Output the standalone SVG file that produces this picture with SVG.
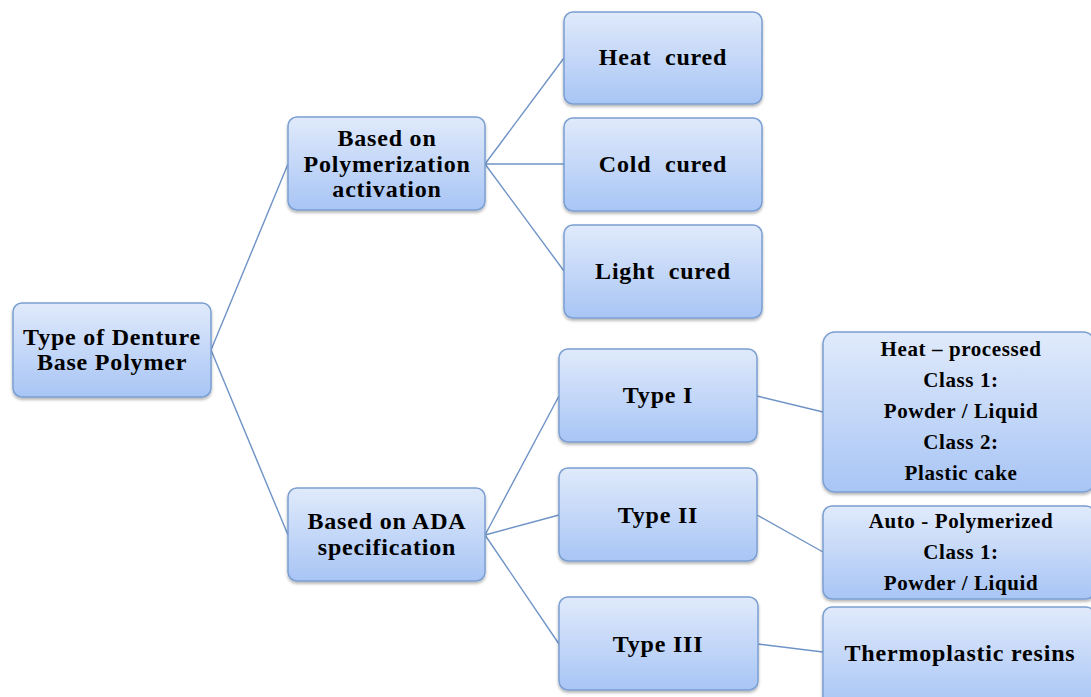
<svg xmlns="http://www.w3.org/2000/svg" width="1091" height="697" viewBox="0 0 1091 697">
<defs>
<linearGradient id="g" x1="0" y1="0" x2="0" y2="1">
<stop offset="0" stop-color="#e0eafb"/>
<stop offset="1" stop-color="#a8c5f5"/>
</linearGradient>
<filter id="sh" x="-10%" y="-10%" width="120%" height="130%">
<feDropShadow dx="0" dy="2" stdDeviation="1.5" flood-color="#000" flood-opacity="0.3"/>
</filter>
</defs>
<style>
.box{fill:url(#g);stroke:#7b9fd2;stroke-width:1.5;filter:url(#sh)}
.t{font-family:"Liberation Serif","Times New Roman",serif;font-weight:bold;fill:#000;text-anchor:middle}
.l{font-size:24px;letter-spacing:0.8px}
.s{font-size:21px;letter-spacing:0.6px}
.c{stroke:#6f93c6;stroke-width:1.4;fill:none}
</style>
<rect width="1091" height="697" fill="#fff"/>
<g id="connectors">
<line class="c" x1="211" y1="350" x2="288" y2="164"/>
<line class="c" x1="211" y1="350" x2="288" y2="535"/>
<line class="c" x1="485" y1="164" x2="564" y2="58"/>
<line class="c" x1="485" y1="164" x2="564" y2="164"/>
<line class="c" x1="485" y1="164" x2="564" y2="271"/>
<line class="c" x1="485" y1="535" x2="559" y2="396"/>
<line class="c" x1="485" y1="535" x2="559" y2="515"/>
<line class="c" x1="485" y1="535" x2="559" y2="644"/>
<line class="c" x1="757" y1="396" x2="823" y2="412"/>
<line class="c" x1="757" y1="515" x2="823" y2="552"/>
<line class="c" x1="758" y1="644" x2="823" y2="652"/>
</g>
<g id="root">
<rect class="box" x="13" y="303" width="198" height="94" rx="9"/>
<text class="t l" x="112" y="345">Type of Denture</text>
<text class="t l" x="112" y="370">Base Polymer</text>
</g>
<g id="polymerization">
<rect class="box" x="288" y="117" width="197" height="93" rx="9"/>
<text class="t l" x="387" y="146">Based on</text>
<text class="t l" x="387" y="172">Polymerization</text>
<text class="t l" x="387" y="197">activation</text>
</g>
<g id="ada">
<rect class="box" x="288" y="488" width="197" height="93" rx="9"/>
<text class="t l" x="387" y="529">Based on ADA</text>
<text class="t l" x="387" y="555">specification</text>
</g>
<g id="heat">
<rect class="box" x="564" y="12" width="198" height="92" rx="9"/>
<text class="t l" x="663" y="65" xml:space="preserve">Heat  cured</text>
</g>
<g id="cold">
<rect class="box" x="564" y="118" width="198" height="93" rx="9"/>
<text class="t l" x="663" y="172" xml:space="preserve">Cold  cured</text>
</g>
<g id="light">
<rect class="box" x="564" y="225" width="198" height="93" rx="9"/>
<text class="t l" x="663" y="279" xml:space="preserve">Light  cured</text>
</g>
<g id="type1">
<rect class="box" x="559" y="349" width="198" height="93" rx="9"/>
<text class="t l" x="658" y="403">Type I</text>
</g>
<g id="type2">
<rect class="box" x="559" y="468" width="198" height="93" rx="9"/>
<text class="t l" x="658" y="523">Type II</text>
</g>
<g id="type3">
<rect class="box" x="559" y="597" width="199" height="93" rx="9"/>
<text class="t l" x="658" y="652">Type III</text>
</g>
<g id="heatprocessed">
<rect class="box" x="823" y="332" width="272" height="160" rx="12"/>
<text class="t s" x="961" y="356">Heat – processed</text>
<text class="t s" x="961" y="387">Class 1:</text>
<text class="t s" x="961" y="418">Powder / Liquid</text>
<text class="t s" x="961" y="449">Class 2:</text>
<text class="t s" x="961" y="480">Plastic cake</text>
</g>
<g id="autopolymerized">
<rect class="box" x="823" y="506" width="272" height="93" rx="9"/>
<text class="t s" x="961" y="528">Auto - Polymerized</text>
<text class="t s" x="961" y="559">Class 1:</text>
<text class="t s" x="961" y="590">Powder / Liquid</text>
</g>
<g id="thermoplastic">
<rect class="box" x="823" y="607" width="272" height="100" rx="9"/>
<text class="t l" x="960" y="661">Thermoplastic resins</text>
</g>
</svg>
